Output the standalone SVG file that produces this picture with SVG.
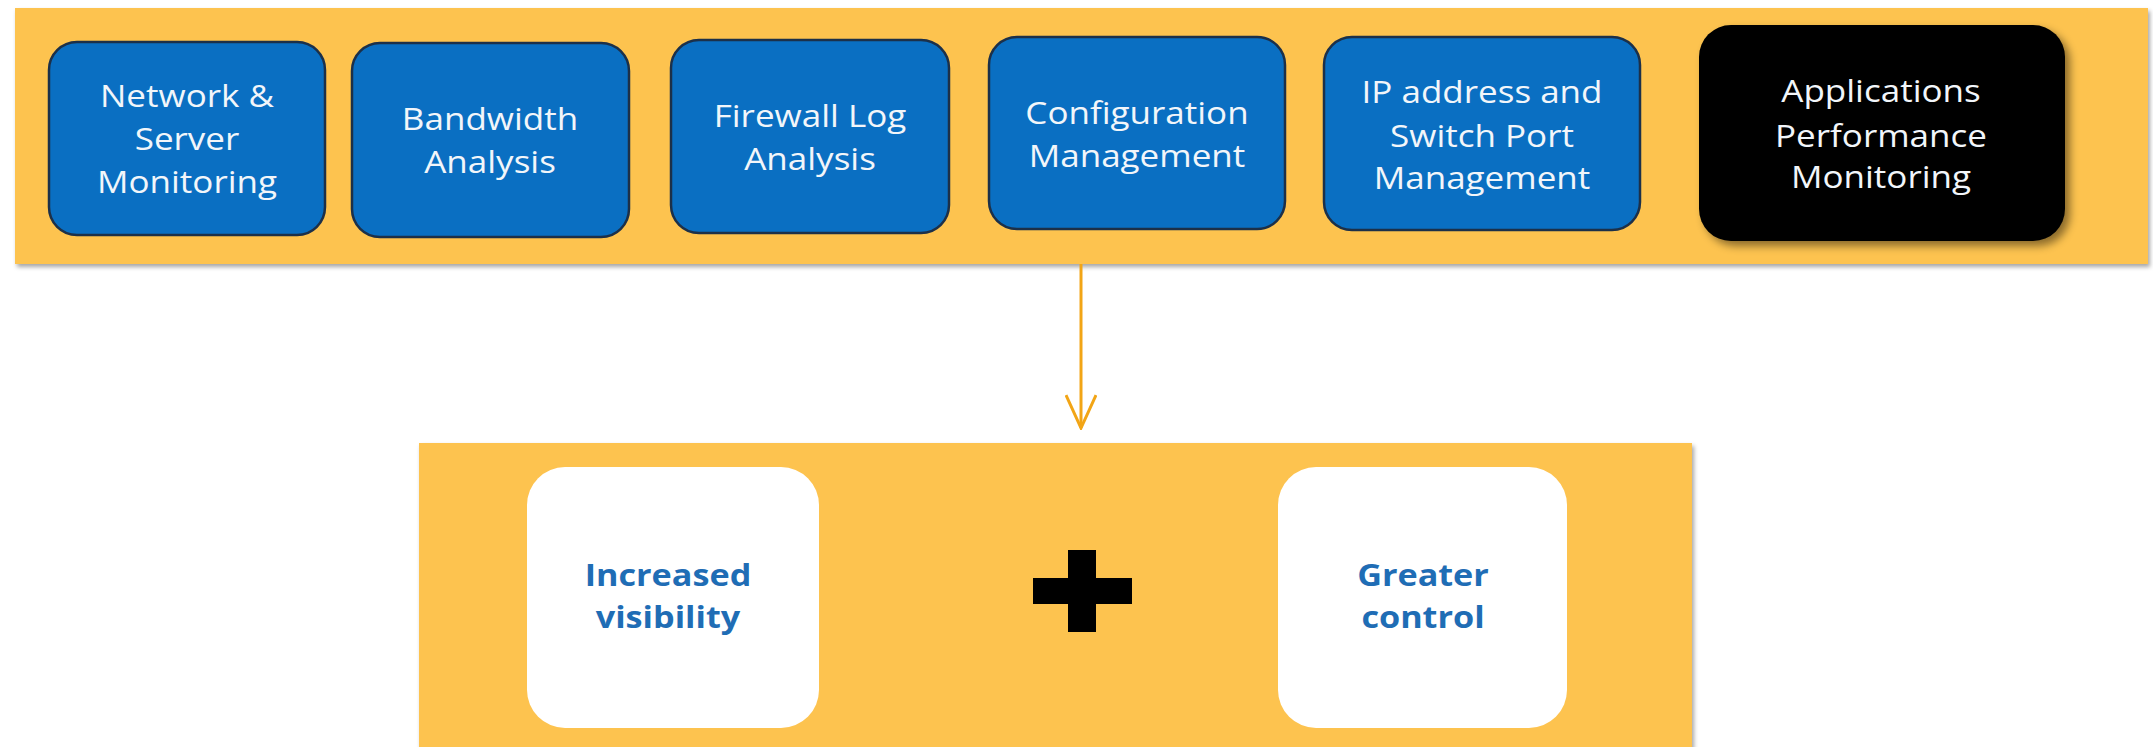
<svg xmlns="http://www.w3.org/2000/svg" width="2153" height="747" viewBox="0 0 2153 747">
<defs>
<filter id="bandShadow" x="-2%" y="-5%" width="104%" height="112%">
<feDropShadow dx="2" dy="3" stdDeviation="2" flood-color="#000" flood-opacity="0.35"/>
</filter>
<filter id="boxShadow" x="-5%" y="-5%" width="115%" height="120%">
<feDropShadow dx="5" dy="5" stdDeviation="4" flood-color="#000" flood-opacity="0.45"/>
</filter>
<marker id="chev" viewBox="0 0 36 32" refX="34" refY="16" markerWidth="36" markerHeight="32" markerUnits="userSpaceOnUse" orient="auto">
<path d="M1,1 L34,16 L1,31" fill="none" stroke="#F2A516" stroke-width="3"/>
</marker>
</defs>
<style>
.band{fill:#FDC350;}
.blue{fill:#0A6FC2;stroke:#1C3049;stroke-width:2.5;}
.black{fill:#000;}
.white{fill:#fff;}
.t{font-family:"Open Sans","Liberation Sans",sans-serif;font-size:31px;fill:#F2F6FA;text-anchor:middle;}
.b{font-family:"Open Sans","Liberation Sans",sans-serif;font-size:30px;font-weight:bold;fill:#1F6DB5;text-anchor:middle;}
.conn{stroke:#F2A516;stroke-width:3;fill:none;}
</style>
<rect width="2153" height="747" fill="#fff"/>

<g id="top-band">
<rect class="band" x="15" y="8" width="2133" height="256" filter="url(#bandShadow)"/>
</g>

<g id="bottom-band">
<rect class="band" x="419" y="443" width="1273" height="320" filter="url(#bandShadow)"/>
</g>

<g id="n1">
<rect class="blue" x="49" y="42" width="276" height="193" rx="28"/>
<g transform="translate(187,0) scale(1.13,1)">
<text class="t" x="0" y="107">Network &amp;</text>
<text class="t" x="0" y="150">Server</text>
<text class="t" x="0" y="193">Monitoring</text>
</g>
</g>

<g id="n2">
<rect class="blue" x="352" y="43" width="277" height="194" rx="28"/>
<g transform="translate(490,0) scale(1.13,1)">
<text class="t" x="0" y="130">Bandwidth</text>
<text class="t" x="0" y="173">Analysis</text>
</g>
</g>

<g id="n3">
<rect class="blue" x="671" y="40" width="278" height="193" rx="28"/>
<g transform="translate(810,0) scale(1.13,1)">
<text class="t" x="0" y="127">Firewall Log</text>
<text class="t" x="0" y="170">Analysis</text>
</g>
</g>

<g id="n4">
<rect class="blue" x="989" y="37" width="296" height="192" rx="28"/>
<g transform="translate(1137,0) scale(1.13,1)">
<text class="t" x="0" y="124">Configuration</text>
<text class="t" x="0" y="167">Management</text>
</g>
</g>

<g id="n5">
<rect class="blue" x="1324" y="37" width="316" height="193" rx="28"/>
<g transform="translate(1482,0) scale(1.13,1)">
<text class="t" x="0" y="103">IP address and</text>
<text class="t" x="0" y="147">Switch Port</text>
<text class="t" x="0" y="189">Management</text>
</g>
</g>

<g id="n6">
<rect class="black" x="1699" y="25" width="366" height="216" rx="32" filter="url(#boxShadow)"/>
<g transform="translate(1881,0) scale(1.13,1)">
<text class="t" x="0" y="102">Applications</text>
<text class="t" x="0" y="147">Performance</text>
<text class="t" x="0" y="188">Monitoring</text>
</g>
</g>

<g id="connectors">
<line class="conn" x1="1081" y1="264" x2="1081" y2="428" marker-end="url(#chev)"/>
</g>

<g id="r1">
<rect class="white" x="527" y="467" width="292" height="261" rx="38"/>
<g transform="translate(668,0) scale(1.14,1)">
<text class="b" x="0" y="586">Increased</text>
<text class="b" x="0" y="628">visibility</text>
</g>
</g>

<g id="plus">
<rect x="1068" y="550" width="28" height="82" fill="#000"/>
<rect x="1033" y="578" width="99" height="26" fill="#000"/>
</g>

<g id="r2">
<rect class="white" x="1278" y="467" width="289" height="261" rx="38"/>
<g transform="translate(1423,0) scale(1.14,1)">
<text class="b" x="0" y="586">Greater</text>
<text class="b" x="0" y="628">control</text>
</g>
</g>
</svg>
